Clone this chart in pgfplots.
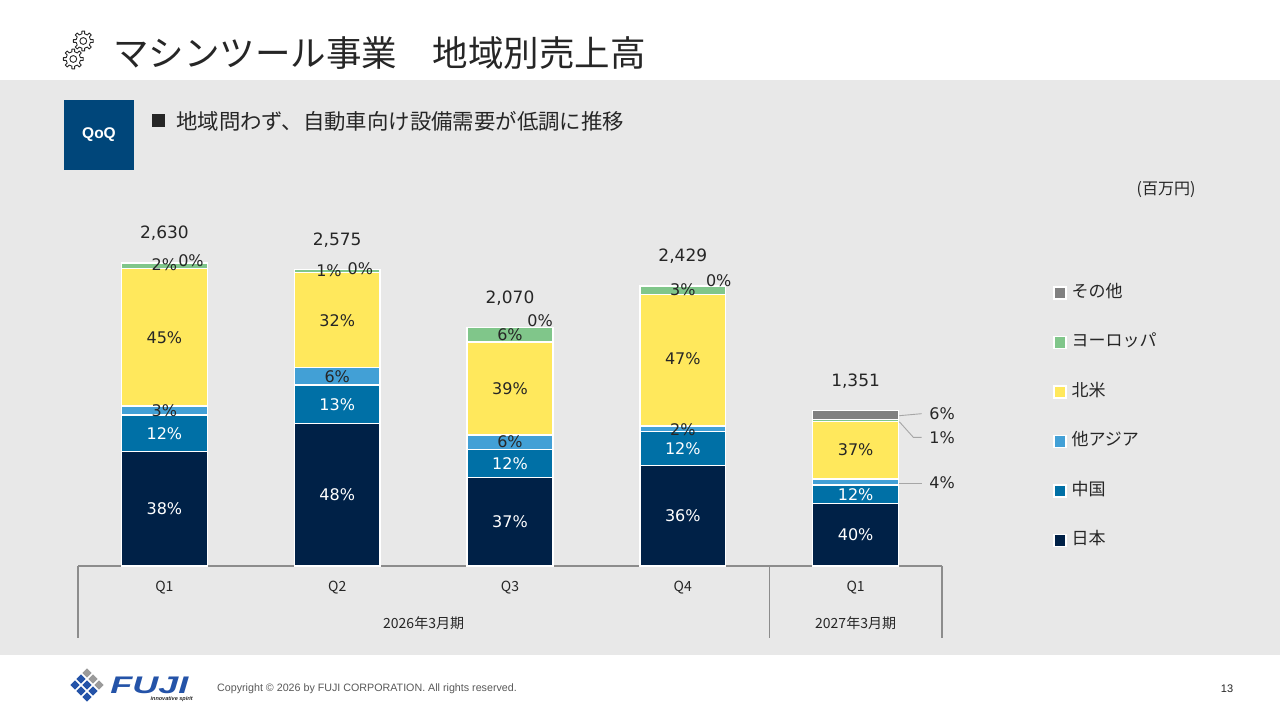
\documentclass[border=0pt]{standalone}
\usepackage{pgfplots}
\pgfplotsset{compat=1.18}
\usepackage{pgfplotstable}
\usepackage{fontspec}
\setmainfont{DejaVu Sans}
\newfontfamily\jp{Noto Sans CJK JP}
\newfontfamily\arial{Liberation Sans}
\definecolor{cjp}{HTML}{002147}
\definecolor{ccn}{HTML}{0070A6}
\definecolor{cas}{HTML}{42A0D6}
\definecolor{cna}{HTML}{FFE85C}
\definecolor{ceu}{HTML}{80C68A}
\definecolor{cot}{HTML}{808080}
\definecolor{bg}{HTML}{E8E8E8}
\definecolor{qoq}{HTML}{00467A}
\definecolor{txt}{HTML}{262626}
\definecolor{axgray}{HTML}{8C8C8C}
\definecolor{leader}{HTML}{A6A6A6}
\definecolor{logoblue}{HTML}{2453A8}
\definecolor{logogray}{HTML}{9A9A9A}

\pgfplotstableread{
x jp cn as na eu ot
0 995 315 80 1190 45 5
1 1236 335 150 824 26 4
2 766 248 124 807 124 1
3 874 291 49 1142 73 0
4 540 162 54 500 14 81
}\data

\tikzset{
  lw/.style={font=\fontsize{16}{19}\selectfont, text=white, inner sep=0pt},
  lk/.style={font=\fontsize{16}{19}\selectfont, text=txt, inner sep=0pt},
  lkw/.style={font=\fontsize{16}{19}\selectfont, text=txt, inner sep=0pt, anchor=west},
  tot/.style={font=\fontsize{17}{20}\selectfont, text=txt, inner sep=0pt, yshift=29.5pt},
}
\newcommand{\legtxt}[1]{\raisebox{0.8pt}{#1}}

\begin{document}
\begin{tikzpicture}[x=1pt,y=1pt]
\path[use as bounding box] (0,0) rectangle (1280,720);
\fill[white] (0,0) rectangle (1280,720);
\fill[bg] (0,65) rectangle (1280,640);

% gears
\foreach \cx/\cy in {83.3/679, 73.3/661}{
  \begin{scope}[shift={(\cx,\cy)}]
  \draw[line width=0.9pt, draw=txt, line join=round]
    (-11:7.3) \foreach \a in {0,45,...,315}{
      -- ({\a-11}:7.3) -- ({\a-8}:10) -- ({\a+8}:10) -- ({\a+11}:7.3)
      arc[start angle={\a+11}, end angle={\a+34}, radius=7.3]
    } -- cycle;
  \draw[line width=0.9pt, draw=txt] (0,0) circle (3.4);
  \end{scope}
}

% title
\node[anchor=west, inner sep=0pt, text=txt, font=\jp\fontsize{35.5}{40}\selectfont] at (113,667) {マシンツール事業　地域別売上高};

% QoQ box
\fill[qoq] (64,550) rectangle (134,620);
\node[text=white, font=\arial\bfseries\fontsize{15.5}{17}\selectfont] at (99,585) {QoQ};

% subtitle
\fill[txt] (152,592.5) rectangle (165,605.5);
\node[anchor=west, inner sep=0pt, text=txt, font=\jp\fontsize{21.4}{24}\selectfont] at (176,599) {地域問わず、自動車向け設備需要が低調に推移};

% unit
\node[text=txt, font=\jp\fontsize{16}{18}\selectfont] at (1166,530) {(百万円)};

\begin{axis}[
  at={(78pt,154pt)}, anchor=south west,
  scale only axis, width=864pt, height=345.63pt,
  xmin=-0.5, xmax=4.5, ymin=0, ymax=3000,
  clip=false,
  ybar stacked, bar width=0.497,
  axis x line=bottom, axis y line=none,
  x axis line style={-, draw=axgray, line width=1.2pt},
  xtick={0,1,2,3,4}, xticklabels={Q1,Q2,Q3,Q4,Q1},
  major tick length=0pt,
  xticklabel style={font=\jp\fontsize{14}{16}\selectfont, text=txt, anchor=center, yshift=-21.7pt},
  reverse legend,
  legend image code/.code={\fill[#1] (0pt,-7pt) rectangle (12pt,5pt);},
  legend style={font=\jp\fontsize{17}{20}\selectfont, text=txt, draw=none, fill=none,
    at={(1.12847,0.8139)}, anchor=north west, inner sep=0pt, row sep=34.6pt,
    nodes={inner sep=0pt},
    /tikz/every even column/.append style={text height=13pt, text depth=3pt},
    /tikz/every odd column/.append style={column sep=5pt},
    cells={anchor=west}},
]
\addplot[fill=cjp, draw=white, line width=1.3pt] table[x=x,y=jp]{\data};
\addlegendentry{\legtxt{日本}}
\addplot[fill=ccn, draw=white, line width=1.3pt] table[x=x,y=cn]{\data};
\addlegendentry{\legtxt{中国}}
\addplot[fill=cas, draw=white, line width=1.3pt] table[x=x,y=as]{\data};
\addlegendentry{\legtxt{他アジア}}
\addplot[fill=cna, draw=white, line width=1.3pt] table[x=x,y=na]{\data};
\addlegendentry{\legtxt{北米}}
\addplot[fill=ceu, draw=white, line width=1.3pt] table[x=x,y=eu]{\data};
\addlegendentry{\legtxt{ヨーロッパ}}
\addplot[fill=cot, draw=white, line width=1.3pt] table[x=x,y=ot]{\data};
\addlegendentry{\legtxt{その他}}

% separators of the category box
\draw[axgray, line width=1.2pt] (axis cs:-0.5,0) -- ++(0pt,-72pt);
\draw[axgray, line width=1.2pt] (axis cs:3.5,0) -- ++(0pt,-72pt);
\draw[axgray, line width=1.2pt] (axis cs:4.5,0) -- ++(0pt,-72pt);
\node[font=\jp\fontsize{14}{16}\selectfont, text=txt] at (axis cs:1.5,0) [yshift=-57.3pt] {2026年3月期};
\node[font=\jp\fontsize{14}{16}\selectfont, text=txt] at (axis cs:4,0) [yshift=-57.3pt] {2027年3月期};

% totals
\node[tot] at (axis cs:0,2630) {2,630};
\node[tot] at (axis cs:1,2575) {2,575};
\node[tot] at (axis cs:2,2070) {2,070};
\node[tot] at (axis cs:3,2429) {2,429};
\node[tot] at (axis cs:4,1351) {1,351};

% label anchors (data coordinates)
\coordinate (a1) at (axis cs:0,497.5);
\coordinate (a2) at (axis cs:0,1152.5);
\coordinate (a3) at (axis cs:0,1350);
\coordinate (a4) at (axis cs:0,1985);
\coordinate (a5) at (axis cs:0,2612.6);
\coordinate (a6) at (axis cs:0.154,2650);
\coordinate (b1) at (axis cs:1,618);
\coordinate (b2) at (axis cs:1,1403.5);
\coordinate (b3) at (axis cs:1,1646);
\coordinate (b4) at (axis cs:1,2133);
\coordinate (b5) at (axis cs:0.9525,2560.5);
\coordinate (b6) at (axis cs:1.134,2578);
\coordinate (c1) at (axis cs:2,383);
\coordinate (c2) at (axis cs:2,890);
\coordinate (c3) at (axis cs:2,1076);
\coordinate (c4) at (axis cs:2,1541.5);
\coordinate (c5) at (axis cs:2,2007);
\coordinate (c6) at (axis cs:2.174,2126.6);
\coordinate (d1) at (axis cs:3,437);
\coordinate (d2) at (axis cs:3,1021.6);
\coordinate (d3) at (axis cs:3,1180);
\coordinate (d4) at (axis cs:3,1797);
\coordinate (d5) at (axis cs:3,2395.6);
\coordinate (d6) at (axis cs:3.208,2476);
\coordinate (e1) at (axis cs:4,270);
\coordinate (e2) at (axis cs:4,621);
\coordinate (e3) at (axis cs:4,1006);
\coordinate (e4) at (axis cs:4.426,1322);
\coordinate (e5) at (axis cs:4.426,1117);
\coordinate (e6) at (axis cs:4.426,720);
% callout leaders
\draw[leader, line width=0.9pt] (axis cs:4.253,1304.6) -- (axis cs:4.382,1322);
\draw[leader, line width=0.9pt] (axis cs:4.253,1252.5) -- (axis cs:4.334,1117) -- (axis cs:4.382,1117);
\draw[leader, line width=0.9pt] (axis cs:4.253,718) -- (axis cs:4.382,718);
\end{axis}

% percentage labels, drawn on top of the bars
\foreach \n/\s/\t in {a1/lw/38,a2/lw/12,a3/lk/3,a4/lk/45,a5/lk/2,a6/lk/0,
  b1/lw/48,b2/lw/13,b3/lk/6,b4/lk/32,b5/lk/1,b6/lk/0,
  c1/lw/37,c2/lw/12,c3/lk/6,c4/lk/39,c5/lk/6,c6/lk/0,
  d1/lw/36,d2/lw/12,d3/lk/2,d4/lk/47,d5/lk/3,d6/lk/0,
  e1/lw/40,e2/lw/12,e3/lk/37,e4/lkw/6,e5/lkw/1,e6/lkw/4}{
  \node[\s] at (\n) {\t\%};
}

% footer logo
\begin{scope}[shift={(87,35)}]
\foreach \i in {0,1,2}{
  \foreach \j in {0,1,2}{
    \pgfmathsetmacro{\px}{6*(\i-1)+6*(\j-1)}
    \pgfmathsetmacro{\py}{6*(\i-1)-6*(\j-1)}
    \ifnum\i=2 \def\lc{logogray}\else\def\lc{logoblue}\fi
    \fill[\lc] (\px,\py+4.6) -- (\px+4.6,\py) -- (\px,\py-4.6) -- (\px-4.6,\py) -- cycle;
  }
}
\end{scope}
\node[anchor=west, inner sep=0pt, text=logoblue, font=\arial\bfseries\itshape\fontsize{24}{26}\selectfont, xscale=1.5] at (110,35) {FUJI};
\node[anchor=east, inner sep=0pt, text=txt, font=\arial\bfseries\itshape\fontsize{5.5}{6}\selectfont] at (193,21) {innovative spirit};
\node[anchor=west, inner sep=0pt, text=black!65, font=\arial\fontsize{10.7}{12}\selectfont] at (217,31) {Copyright © 2026 by FUJI CORPORATION. All rights reserved.};
\node[inner sep=0pt, text=txt, font=\arial\fontsize{11}{12}\selectfont] at (1227,31) {13};
\end{tikzpicture}
\end{document}
